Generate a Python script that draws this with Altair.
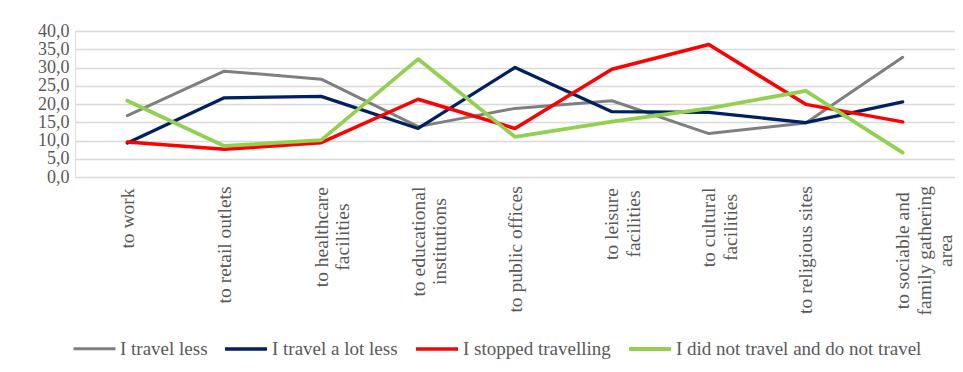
import altair as alt
import pandas as pd

categories = [
    "to work",
    "to retail outlets",
    "to healthcare|facilities",
    "to educational|institutions",
    "to public offices",
    "to leisure|facilities",
    "to cultural|facilities",
    "to religious sites",
    "to sociable and|family gathering|area",
]
# half of the longest text line of each label (px), used to keep label tops aligned
label_half_len = [28.0, 54.4, 46.6, 51.1, 58.9, 33.5, 37.0, 59.5, 60.2]
series_names = [
    "I travel less",
    "I travel a lot less",
    "I stopped travelling",
    "I did not travel and do not travel",
]
travel_less = [16.8, 29.0, 26.8, 13.8, 18.8, 20.9, 11.9, 14.8, 32.8]
travel_lot_less = [9.3, 21.7, 22.1, 13.3, 30.0, 17.9, 17.7, 14.9, 20.6]
stopped = [9.6, 7.6, 9.4, 21.3, 13.3, 29.5, 36.3, 19.9, 15.1]
did_not = [20.9, 8.5, 10.1, 32.3, 11.0, 15.2, 18.8, 23.6, 6.7]
colors = ["#7f7f7f", "#002060", "#ff0000", "#92d050"]
stroke_widths = [3.0, 3.8, 4.0, 3.5]

rows = []
for name, vals in zip(series_names, [travel_less, travel_lot_less, stopped, did_not]):
    for i, (c, v) in enumerate(zip(categories, vals)):
        rows.append({"series": name, "category": c, "value": v, "idx": i})
df = pd.DataFrame(rows)

serif = "Liberation Serif"
gray_text = "#595959"
base_pad = 13
label_padding = {
    "condition": [
        {"test": f"datum.value == '{c}'", "value": base_pad + h}
        for c, h in zip(categories, label_half_len)
    ],
    "value": base_pad,
}

chart = alt.Chart(df).mark_line(strokeJoin="round", strokeCap="round").encode(
    x=alt.X(
        "category:N",
        sort=categories,
        scale=alt.Scale(type="point", padding=0.54),
        axis=alt.Axis(
            title=None,
            labelAngle=270,
            labelAlign="center",
            labelBaseline="middle",
            labelExpr="split(datum.label, '|')",
            labelFont=serif,
            labelFontSize=19.5,
            labelColor=gray_text,
            labelLineHeight=21.5,
            labelPadding=label_padding,
            labelLimit=300,
            labelOverlap=False,
            labelBound=False,
            ticks=False,
            domain=False,
            grid=False,
        ),
    ),
    y=alt.Y(
        "value:Q",
        scale=alt.Scale(domain=[0, 40], nice=False),
        axis=alt.Axis(
            title=None,
            values=[0, 5, 10, 15, 20, 25, 30, 35, 40],
            labelExpr="replace(format(datum.value, '.1f'), '.', ',')",
            labelFont=serif,
            labelFontSize=18,
            labelColor=gray_text,
            labelPadding=6,
            ticks=False,
            domain=False,
            grid=True,
            gridColor="#d9d9d9",
            gridWidth=1.5,
        ),
    ),
    color=alt.Color(
        "series:N",
        sort=series_names,
        scale=alt.Scale(domain=series_names, range=colors),
        legend=alt.Legend(
            title=None,
            orient="none",
            direction="horizontal",
            legendX=-3,
            legendY=295,
            symbolType="stroke",
            symbolSize=1764,
            symbolStrokeWidth=4,
            labelFont=serif,
            labelFontSize=19,
            labelColor=gray_text,
            labelOffset=3,
            columnPadding=10,
            labelLimit=400,
        ),
    ),
    strokeWidth=alt.StrokeWidth(
        "series:N",
        scale=alt.Scale(domain=series_names, range=stroke_widths),
        legend=None,
    ),
    order=alt.Order("idx:Q"),
    detail="series:N",
).properties(
    width=880,
    height=146,
    autosize=alt.AutoSizeParams(type="none"),
    padding={"left": 67, "top": 23, "right": 0, "bottom": 192},
).configure_view(stroke=None).configure(background="white")

chart.save("out.html", embed_options={"renderer": "svg", "actions": False})
